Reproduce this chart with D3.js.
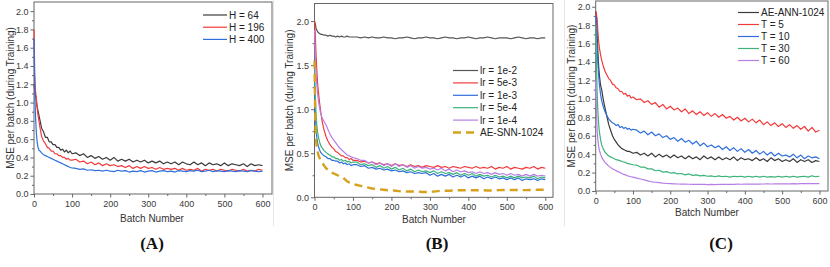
<!DOCTYPE html>
<html><head><meta charset="utf-8">
<script src="https://cdn.jsdelivr.net/npm/d3@7"></script>
<style>body{margin:0;background:#fff}svg{display:block}text{font-family:"Liberation Sans",Arial,sans-serif}</style>
</head><body>
<svg id="c" width="830" height="267"></svg>
<script>
// shared batch positions
const batches = [0,2,4,6,8,10,13,16,20,25,30,35,40,45,50,55,60,65,70,75,80,85,90,95,100,
110,120,130,140,150,160,170,180,190,200,210,220,230,240,250,260,270,280,290,300,
310,320,330,340,350,360,370,380,390,400,410,420,430,440,450,460,470,480,490,500,
510,520,530,540,550,560,570,580,590,600];

// Panel A
const aLabels = ["H = 64","H = 196","H = 400"];
const aH64 = [1.20,1.12,1.08,1.02,0.96,0.92,0.86,0.80,0.72,0.68,0.62,0.62,0.57,0.57,0.54,0.54,0.51,0.51,0.48,0.49,0.46,0.48,0.45,0.47,0.44,
0.45,0.42,0.44,0.40,0.42,0.39,0.41,0.38,0.40,0.37,0.40,0.36,0.38,0.36,0.38,0.35,0.37,0.35,0.37,0.34,
0.36,0.34,0.36,0.33,0.35,0.33,0.35,0.32,0.35,0.33,0.32,0.35,0.32,0.34,0.31,0.34,0.32,0.33,0.31,0.34,
0.31,0.33,0.32,0.31,0.33,0.30,0.33,0.31,0.32,0.31];
const aH196 = [1.80,1.30,1.12,1.05,0.96,0.88,0.80,0.72,0.63,0.58,0.55,0.51,0.50,0.47,0.47,0.44,0.44,0.42,0.42,0.40,0.40,0.38,0.39,0.37,0.37,
0.38,0.35,0.36,0.33,0.35,0.32,0.34,0.31,0.33,0.31,0.32,0.30,0.31,0.29,0.31,0.28,0.30,0.28,0.30,0.28,
0.29,0.27,0.29,0.27,0.28,0.27,0.28,0.26,0.28,0.26,0.27,0.26,0.28,0.25,0.27,0.26,0.27,0.25,0.27,0.26,
0.25,0.27,0.26,0.25,0.27,0.25,0.26,0.25,0.27,0.26];
const aH400 = [1.70,1.10,0.85,0.68,0.58,0.52,0.48,0.47,0.45,0.43,0.42,0.41,0.40,0.39,0.38,0.37,0.36,0.35,0.34,0.33,0.32,0.31,0.30,0.29,0.285,
0.28,0.27,0.275,0.26,0.265,0.255,0.26,0.25,0.26,0.25,0.245,0.26,0.25,0.255,0.24,0.25,0.245,0.255,0.24,0.25,
0.255,0.24,0.25,0.255,0.245,0.25,0.24,0.255,0.25,0.245,0.255,0.25,0.26,0.245,0.25,0.26,0.245,0.255,0.25,0.245,
0.255,0.25,0.245,0.255,0.25,0.245,0.255,0.25,0.245,0.25];

// Panel B
const bLabels = ["lr = 1e-2","lr = 5e-3","lr = 1e-3","lr = 5e-4","lr = 1e-4","AE-SNN-1024"];
const bLr1e2 = [2.00,1.97,1.92,1.90,1.88,1.87,1.86,1.85,1.85,1.84,1.84,1.83,1.84,1.83,1.83,1.82,1.83,1.82,1.83,1.82,1.82,1.83,1.82,1.82,1.82,
1.82,1.81,1.82,1.81,1.82,1.81,1.81,1.82,1.81,1.81,1.80,1.81,1.81,1.82,1.81,1.80,1.81,1.81,1.82,1.81,
1.81,1.80,1.81,1.82,1.81,1.81,1.80,1.81,1.81,1.82,1.81,1.80,1.81,1.81,1.82,1.81,1.80,1.81,1.81,1.81,
1.80,1.81,1.82,1.81,1.80,1.81,1.81,1.80,1.81,1.81];
const bLr5e3 = [2.00,1.85,1.62,1.45,1.30,1.20,1.08,0.98,0.86,0.76,0.69,0.64,0.60,0.57,0.55,0.52,0.51,0.49,0.47,0.47,0.45,0.45,0.43,0.44,0.42,
0.42,0.40,0.41,0.39,0.40,0.38,0.39,0.37,0.38,0.36,0.38,0.36,0.37,0.35,0.37,0.35,0.36,0.34,0.36,0.35,
0.34,0.36,0.34,0.35,0.33,0.35,0.34,0.33,0.35,0.34,0.33,0.35,0.33,0.34,0.33,0.35,0.32,0.34,0.33,0.35,
0.32,0.34,0.33,0.32,0.34,0.33,0.35,0.32,0.34,0.33];
const bLr1e3 = [1.30,0.95,0.78,0.68,0.62,0.58,0.54,0.51,0.49,0.47,0.46,0.44,0.44,0.42,0.42,0.41,0.41,0.39,0.40,0.38,0.39,0.37,0.38,0.36,0.37,
0.37,0.35,0.36,0.33,0.34,0.32,0.33,0.31,0.32,0.30,0.31,0.29,0.30,0.28,0.29,0.27,0.28,0.27,0.28,0.25,
0.27,0.24,0.26,0.24,0.26,0.23,0.25,0.23,0.25,0.22,0.24,0.22,0.24,0.21,0.23,0.21,0.23,0.21,0.22,0.20,
0.22,0.20,0.22,0.19,0.21,0.20,0.21,0.19,0.21,0.20];
const bLr5e4 = [1.50,1.15,0.95,0.82,0.74,0.69,0.63,0.59,0.56,0.53,0.51,0.49,0.48,0.46,0.46,0.44,0.44,0.42,0.43,0.41,0.42,0.40,0.41,0.39,0.40,
0.40,0.37,0.38,0.36,0.37,0.34,0.36,0.33,0.35,0.32,0.34,0.31,0.33,0.30,0.32,0.29,0.31,0.29,0.30,0.28,
0.30,0.27,0.29,0.27,0.28,0.26,0.28,0.25,0.27,0.25,0.27,0.24,0.26,0.24,0.25,0.23,0.25,0.23,0.24,0.22,
0.24,0.22,0.24,0.22,0.23,0.22,0.24,0.21,0.23,0.22];
const bLr1e4 = [1.90,1.60,1.40,1.28,1.18,1.10,1.02,0.95,0.90,0.86,0.82,0.77,0.72,0.68,0.65,0.62,0.59,0.56,0.54,0.52,0.50,0.48,0.47,0.46,0.45,
0.44,0.42,0.42,0.39,0.40,0.37,0.39,0.36,0.38,0.35,0.38,0.35,0.37,0.34,0.36,0.33,0.35,0.33,0.34,0.32,
0.33,0.31,0.33,0.30,0.32,0.29,0.31,0.29,0.30,0.28,0.29,0.27,0.29,0.27,0.28,0.26,0.28,0.26,0.27,0.25,
0.27,0.25,0.26,0.24,0.26,0.24,0.26,0.24,0.25,0.24];
const bSnn = [1.55,0.90,0.65,0.56,0.52,0.48,0.45,0.42,0.40,0.36,0.33,0.31,0.29,0.28,0.27,0.26,0.25,0.24,0.23,0.22,0.20,0.18,0.17,0.16,0.15,
0.14,0.13,0.12,0.11,0.10,0.095,0.09,0.085,0.08,0.08,0.075,0.07,0.065,0.065,0.065,0.065,0.065,0.06,0.06,0.06,
0.065,0.07,0.075,0.075,0.075,0.078,0.08,0.08,0.08,0.08,0.08,0.08,0.08,0.08,0.078,0.078,0.08,0.082,0.083,0.083,
0.083,0.083,0.083,0.082,0.082,0.083,0.084,0.085,0.085,0.085];

// Panel C
const cLabels = ["AE-ANN-1024","T = 5","T = 10","T = 30","T = 60"];
const cAnn = [1.95,1.90,1.70,1.50,1.35,1.25,1.15,1.10,1.00,0.90,0.81,0.72,0.66,0.60,0.56,0.53,0.50,0.48,0.46,0.45,0.44,0.43,0.43,0.42,0.41,
0.42,0.39,0.41,0.38,0.41,0.37,0.40,0.37,0.39,0.36,0.39,0.36,0.38,0.35,0.38,0.35,0.37,0.34,0.38,0.35,
0.37,0.34,0.37,0.34,0.36,0.34,0.37,0.33,0.36,0.34,0.35,0.33,0.36,0.33,0.35,0.32,0.36,0.33,0.35,0.32,
0.34,0.32,0.35,0.31,0.34,0.32,0.34,0.31,0.33,0.32];
const cT5 = [1.95,1.92,1.85,1.72,1.62,1.55,1.48,1.42,1.36,1.30,1.26,1.22,1.20,1.16,1.15,1.12,1.11,1.08,1.08,1.05,1.06,1.03,1.04,1.01,1.02,
0.99,1.00,0.96,0.98,0.94,0.96,0.91,0.94,0.89,0.92,0.88,0.90,0.86,0.89,0.84,0.87,0.83,0.86,0.82,0.85,
0.81,0.84,0.80,0.83,0.79,0.81,0.77,0.80,0.76,0.79,0.75,0.78,0.74,0.77,0.72,0.75,0.71,0.74,0.70,0.73,
0.69,0.72,0.68,0.71,0.67,0.70,0.65,0.69,0.64,0.66];
const cT10 = [1.90,1.80,1.55,1.38,1.25,1.15,1.05,0.98,0.92,0.86,0.82,0.78,0.76,0.74,0.73,0.71,0.72,0.69,0.70,0.68,0.69,0.67,0.68,0.66,0.67,
0.66,0.63,0.65,0.61,0.64,0.60,0.62,0.58,0.60,0.56,0.58,0.54,0.57,0.53,0.55,0.51,0.54,0.49,0.52,0.48,
0.50,0.47,0.49,0.45,0.48,0.44,0.47,0.43,0.46,0.42,0.45,0.41,0.44,0.40,0.43,0.39,0.42,0.38,0.41,0.38,
0.39,0.37,0.40,0.36,0.39,0.35,0.38,0.36,0.37,0.35];
const cT30 = [1.80,1.40,1.05,0.85,0.72,0.64,0.56,0.50,0.46,0.42,0.40,0.38,0.37,0.36,0.35,0.34,0.335,0.33,0.32,0.315,0.31,0.30,0.295,0.29,0.285,
0.28,0.26,0.26,0.24,0.24,0.22,0.225,0.205,0.21,0.195,0.20,0.185,0.19,0.175,0.185,0.17,0.175,0.165,0.17,0.16,
0.165,0.155,0.165,0.155,0.16,0.15,0.16,0.155,0.16,0.15,0.16,0.15,0.16,0.15,0.16,0.15,0.155,0.15,0.16,0.15,
0.16,0.15,0.16,0.15,0.155,0.16,0.15,0.165,0.155,0.16];
const cT60 = [1.20,0.85,0.65,0.55,0.48,0.44,0.40,0.37,0.34,0.31,0.29,0.27,0.255,0.24,0.23,0.22,0.21,0.20,0.19,0.18,0.175,0.165,0.16,0.155,0.15,
0.14,0.13,0.12,0.11,0.10,0.095,0.09,0.085,0.082,0.08,0.078,0.076,0.075,0.074,0.073,0.072,0.072,0.071,0.071,0.07,
0.071,0.07,0.072,0.071,0.072,0.073,0.072,0.074,0.073,0.074,0.075,0.074,0.076,0.075,0.076,0.077,0.076,0.077,0.078,0.077,
0.078,0.077,0.079,0.078,0.079,0.08,0.079,0.08,0.08,0.08];

const xTicks = [0,100,200,300,400,500,600];

const svg = d3.select("#c");
// faint panel separators
svg.append("line").attr("x1",273.5).attr("x2",273.5).attr("y1",0).attr("y2",226).attr("stroke","#e6e6e6");
svg.append("line").attr("x1",564.5).attr("x2",564.5).attr("y1",0).attr("y2",226).attr("stroke","#e6e6e6");

function panel(cfg){
  const g = svg.append("g");
  const x = d3.scaleLinear().domain(cfg.xd).range([cfg.x0,cfg.x1]);
  const y = d3.scaleLinear().domain(cfg.yd).range([cfg.y0,cfg.y1]);
  g.append("rect").attr("x",cfg.x0).attr("y",cfg.y1).attr("width",cfg.x1-cfg.x0).attr("height",cfg.y0-cfg.y1)
    .attr("fill","none").attr("stroke","#666").attr("stroke-width",1);
  const xa = g.append("g").attr("transform",`translate(0,${cfg.y0})`)
    .call(d3.axisBottom(x).tickValues(xTicks).tickSize(3.5).tickFormat(d3.format("d")));
  const xm = g.append("g").attr("transform",`translate(0,${cfg.y0})`)
    .call(d3.axisBottom(x).tickValues(xTicks.slice(0,-1).map(v=>v+50)).tickSize(2).tickFormat(""));
  const ya = g.append("g").attr("transform",`translate(${cfg.x0},0)`)
    .call(d3.axisLeft(y).tickValues(cfg.yTicks).tickSize(3.5).tickFormat(d3.format(".1f")));
  const ym = g.append("g").attr("transform",`translate(${cfg.x0},0)`)
    .call(d3.axisLeft(y).tickValues(cfg.yMinor).tickSize(2).tickFormat(""));
  [xa,xm,ya,ym].forEach(a=>{a.select(".domain").remove();a.selectAll("line").attr("stroke","#666");
    a.selectAll("text").attr("fill","#3a3a3a").style("font-size","9px");});
  xa.selectAll("text").attr("dy","0.75em").attr("y",6);
  ya.selectAll("text").attr("x",-5.5);
  const line = d3.line().x((d,i)=>x(batches[i])).y(d=>y(d));
  cfg.series.forEach(s=>{
    g.append("path").datum(s.v).attr("d",line).attr("fill","none").attr("stroke",s.c)
      .attr("stroke-width",s.dash?2.4:1.2).attr("stroke-dasharray",s.dash?"8,5":null)
      .attr("stroke-linejoin","round");
  });
  g.append("text").attr("x",cfg.xlabX).attr("y",cfg.xlabY).attr("text-anchor","middle")
    .style("font-size","10px").attr("fill","#333").text("Batch Number");
  g.append("text").attr("transform",`translate(${cfg.ylabX},${(cfg.y0+cfg.y1)/2}) rotate(-90)`)
    .attr("text-anchor","middle").attr("dominant-baseline","central").style("font-size","10px").attr("fill","#333").text(cfg.ylab);
  cfg.series.forEach((s,i)=>{
    const ly = cfg.leg.y + i*cfg.leg.dy;
    g.append("line").attr("x1",cfg.leg.x).attr("x2",cfg.leg.x+cfg.leg.w).attr("y1",ly).attr("y2",ly)
      .attr("stroke",s.c).attr("stroke-width",s.dash?2.4:1.2).attr("stroke-dasharray",s.dash?"8,5":null);
    g.append("text").attr("x",cfg.leg.x+cfg.leg.w+2).attr("y",ly).attr("dominant-baseline","central")
      .style("font-size","10px").attr("fill","#222").text(s.n);
  });
  svg.append("text").attr("x",cfg.tagX).attr("y",249).attr("text-anchor","middle")
    .style("font-family","'Liberation Serif','Times New Roman',serif").style("font-weight","bold").style("font-size","17px")
    .attr("fill","#111").text(cfg.tag);
}

const K="#3b3b3b", R="#f23a3a", B="#2f6fdc", G="#3cb37a", P="#b77fe6", O="#d6a21e";

panel({x0:34,x1:272,y0:194,y1:2,xd:[0,625],yd:[0,2.1],
  yTicks:[0,0.2,0.4,0.6,0.8,1.0,1.2,1.4,1.6,1.8,2.0],
  yMinor:[0.1,0.3,0.5,0.7,0.9,1.1,1.3,1.5,1.7,1.9],
  ylab:"MSE per batch (during Training)",ylabX:10,xlabX:152,xlabY:222,tag:"(A)",tagX:152,
  leg:{x:203,y:15,dy:12.2,w:24},
  series:[{n:aLabels[0],v:aH64,c:K},{n:aLabels[1],v:aH196,c:R},{n:aLabels[2],v:aH400,c:B}]});

panel({x0:314.5,x1:553,y0:197.3,y1:3.5,xd:[0,620],yd:[0,2.2],
  yTicks:[0,0.5,1.0,1.5,2.0],
  yMinor:[0.25,0.75,1.25,1.75],
  ylab:"MSE per batch (during Training)",ylabX:289,xlabX:434,xlabY:223,tag:"(B)",tagX:437,
  leg:{x:453,y:70.5,dy:12.4,w:25},
  series:[{n:bLabels[0],v:bLr1e2,c:"#555"},{n:bLabels[1],v:bLr5e3,c:R},{n:bLabels[2],v:bLr1e3,c:B},
          {n:bLabels[3],v:bLr5e4,c:G},{n:bLabels[4],v:bLr1e4,c:P},{n:bLabels[5],v:bSnn,c:O,dash:true}]});

panel({x0:595.7,x1:828,y0:191,y1:1,xd:[0,623],yd:[0,2.062],
  yTicks:[0,0.2,0.4,0.6,0.8,1.0,1.2,1.4,1.6,1.8,2.0],
  yMinor:[0.1,0.3,0.5,0.7,0.9,1.1,1.3,1.5,1.7,1.9],
  ylab:"MSE per Batch (during Training)",ylabX:571,xlabX:707,xlabY:216,tag:"(C)",tagX:721,
  leg:{x:738,y:12.5,dy:12,w:21},
  series:[{n:cLabels[0],v:cAnn,c:K},{n:cLabels[1],v:cT5,c:R},{n:cLabels[2],v:cT10,c:B},
          {n:cLabels[3],v:cT30,c:G},{n:cLabels[4],v:cT60,c:P}]});
</script>
</body></html>
